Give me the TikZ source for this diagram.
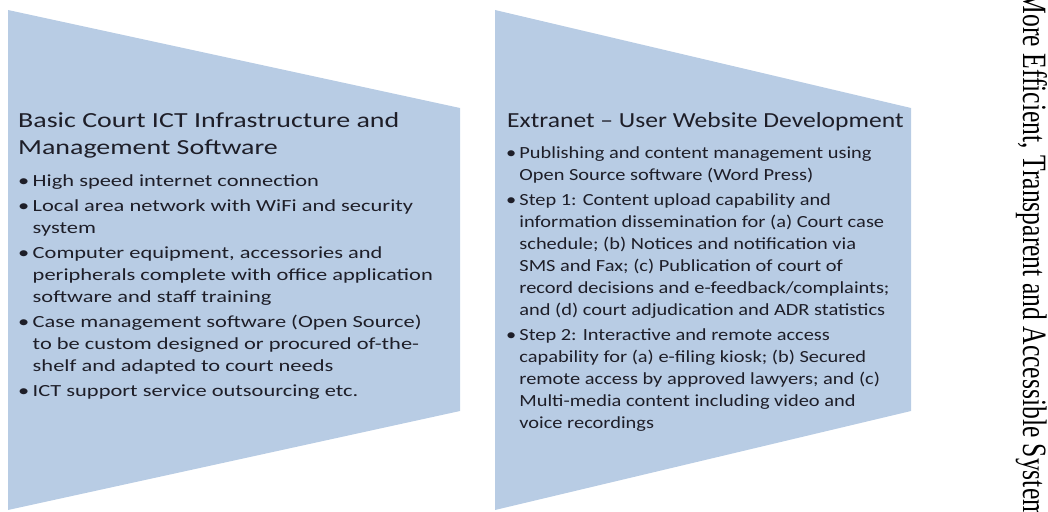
\documentclass[tikz,border=0pt]{standalone}
\usepackage{fontspec}
\setmainfont{Carlito}
\newfontfamily\sidefont{Liberation Serif}
\definecolor{stageblue}{HTML}{B8CCE4}
\definecolor{inkgray}{HTML}{1E1E28}
\newcommand{\bul}{\makebox[11pt][l]{\textbullet}}
\newcommand{\ind}{\hspace*{11pt}}
% text in the picture is stretched sideways
\newcommand{\widelines}[2]{\scalebox{#1}[1]{\begin{tabular}[t]{@{}l@{}}#2\end{tabular}}}

\begin{document}
\begin{tikzpicture}[x=1pt, y=-1pt,
    stage/.style={fill=stageblue, draw=none},
    heading/.style={anchor=base west, inner sep=0pt, text=inkgray, font=\fontsize{21.5}{27}\selectfont},
    points/.style={anchor=base west, inner sep=0pt, text=inkgray, font=\fontsize{17}{22}\selectfont}]
        \useasboundingbox (0,0) rectangle (1048,511);

        % stages
        \fill[stage] (8,10) -- (460,108) -- (460,411) -- (8,510) -- cycle;
        \fill[stage] (495,10) -- (911,108) -- (911,411) -- (495,510) -- cycle;

        % basic court ICT
        \node (ict) at (18,127) [heading] {\widelines{1.3}{Basic Court ICT Infrastructure and\\Management Software}};
        \node (ictlist) at (18,186) [points] {\widelines{1.32}{\bul High speed internet connection\\[3pt]
            \bul Local area network with WiFi and security\\
            \ind system\\[3pt]
            \bul Computer equipment, accessories and\\
            \ind peripherals complete with office application\\
            \ind software and staff training\\[3pt]
            \bul Case management software (Open Source)\\
            \ind to be custom designed or procured of-the-\\
            \ind shelf and adapted to court needs\\[3pt]
            \bul ICT support service outsourcing etc.}};

        % extranet
        \node (web) at (507,127) [heading] {\widelines{1.19}{Extranet -- User Website Development}};
        \node (weblist) at (506,158) [points] {\widelines{1.2}{\bul Publishing and content management using\\
            \ind Open Source software (Word Press)\\[3pt]
            \bul Step 1: Content upload capability and\\
            \ind information dissemination for (a) Court case\\
            \ind schedule; (b) Notices and notification via\\
            \ind SMS and Fax; (c) Publication of court of\\
            \ind record decisions and e-feedback/complaints;\\
            \ind and (d) court adjudication and ADR statistics\\[3pt]
            \bul Step 2: Interactive and remote access\\
            \ind capability for (a) e-filing kiosk; (b) Secured\\
            \ind remote access by approved lawyers; and (c)\\
            \ind Multi-media content including video and\\
            \ind voice recordings}};

        % goal
        \node (goal) at (1023,255.5) [rotate=-90, anchor=base, inner sep=0pt, font=\sidefont\fontsize{25.6}{30}\selectfont] {\scalebox{1}[1.33]{More Efficient, Transparent and Accessible System}};
    \end{tikzpicture}
\end{document}
